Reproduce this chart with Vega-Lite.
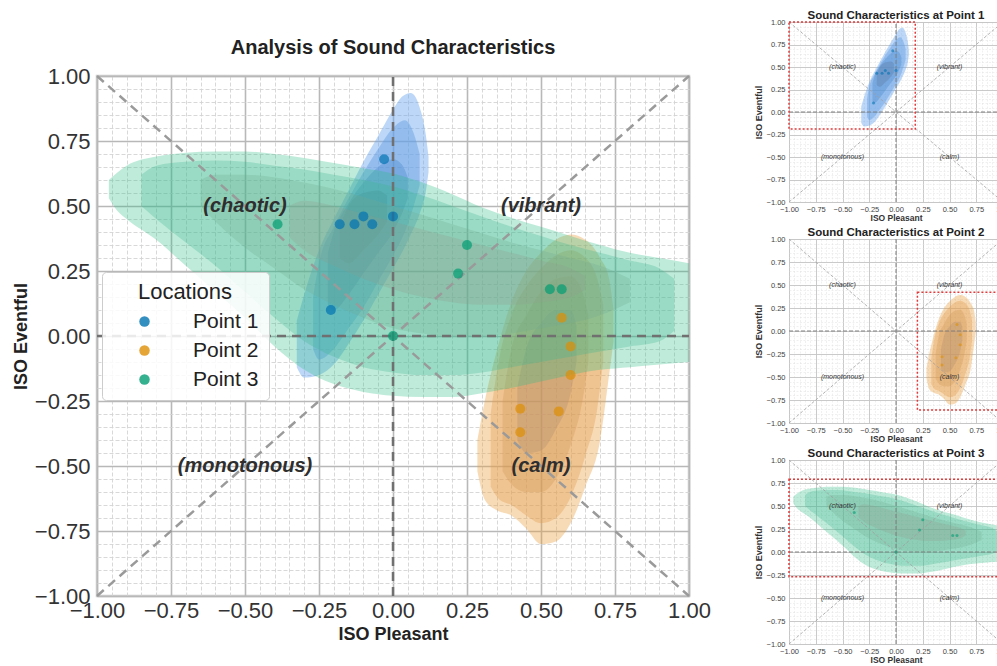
{
"$schema": "https://vega.github.io/schema/vega-lite/v6.json",
"background": "white",
"padding": {"left": 11, "top": 9, "right": 0, "bottom": 0},
"config": {"font": "Liberation Sans", "view": {"stroke": "#cccccc", "strokeWidth": 2}},
"datasets": {
"pts": [
{"loc":"Point 1","x":-0.03,"y":0.68},{"loc":"Point 1","x":0.0,"y":0.46},{"loc":"Point 1","x":-0.18,"y":0.43},{"loc":"Point 1","x":-0.13,"y":0.43},{"loc":"Point 1","x":-0.10,"y":0.46},{"loc":"Point 1","x":-0.07,"y":0.43},{"loc":"Point 1","x":-0.21,"y":0.10},
{"loc":"Point 2","x":0.57,"y":0.07},{"loc":"Point 2","x":0.60,"y":-0.04},{"loc":"Point 2","x":0.60,"y":-0.15},{"loc":"Point 2","x":0.43,"y":-0.28},{"loc":"Point 2","x":0.56,"y":-0.29},{"loc":"Point 2","x":0.43,"y":-0.37},
{"loc":"Point 3","x":-0.39,"y":0.43},{"loc":"Point 3","x":0.25,"y":0.35},{"loc":"Point 3","x":0.22,"y":0.24},{"loc":"Point 3","x":0.0,"y":0.0},{"loc":"Point 3","x":0.53,"y":0.18},{"loc":"Point 3","x":0.57,"y":0.18}
],
"kde": [
{"loc":"Point 3","s":"P3L1","x":-0.96,"y":0.53,"y2":0.60},{"loc":"Point 3","s":"P3L1","x":-0.93,"y":0.48,"y2":0.63},{"loc":"Point 3","s":"P3L1","x":-0.9,"y":0.45,"y2":0.655},{"loc":"Point 3","s":"P3L1","x":-0.8,"y":0.37,"y2":0.69},{"loc":"Point 3","s":"P3L1","x":-0.7,"y":0.27,"y2":0.705},{"loc":"Point 3","s":"P3L1","x":-0.6,"y":0.17,"y2":0.71},{"loc":"Point 3","s":"P3L1","x":-0.5,"y":0.07,"y2":0.71},{"loc":"Point 3","s":"P3L1","x":-0.4,"y":-0.04,"y2":0.70},{"loc":"Point 3","s":"P3L1","x":-0.3,"y":-0.13,"y2":0.685},{"loc":"Point 3","s":"P3L1","x":-0.2,"y":-0.185,"y2":0.665},{"loc":"Point 3","s":"P3L1","x":-0.1,"y":-0.215,"y2":0.645},{"loc":"Point 3","s":"P3L1","x":0.0,"y":-0.23,"y2":0.625},{"loc":"Point 3","s":"P3L1","x":0.1,"y":-0.235,"y2":0.59},{"loc":"Point 3","s":"P3L1","x":0.2,"y":-0.235,"y2":0.545},{"loc":"Point 3","s":"P3L1","x":0.3,"y":-0.22,"y2":0.495},{"loc":"Point 3","s":"P3L1","x":0.4,"y":-0.2,"y2":0.455},{"loc":"Point 3","s":"P3L1","x":0.5,"y":-0.175,"y2":0.42},{"loc":"Point 3","s":"P3L1","x":0.6,"y":-0.15,"y2":0.385},{"loc":"Point 3","s":"P3L1","x":0.7,"y":-0.13,"y2":0.35},{"loc":"Point 3","s":"P3L1","x":0.8,"y":-0.12,"y2":0.32},{"loc":"Point 3","s":"P3L1","x":0.9,"y":-0.11,"y2":0.30},{"loc":"Point 3","s":"P3L1","x":1.0,"y":-0.10,"y2":0.28},
{"loc":"Point 3","s":"P3L2","x":-0.85,"y":0.50,"y2":0.62},{"loc":"Point 3","s":"P3L2","x":-0.8,"y":0.45,"y2":0.655},{"loc":"Point 3","s":"P3L2","x":-0.7,"y":0.36,"y2":0.67},{"loc":"Point 3","s":"P3L2","x":-0.6,"y":0.27,"y2":0.675},{"loc":"Point 3","s":"P3L2","x":-0.5,"y":0.17,"y2":0.67},{"loc":"Point 3","s":"P3L2","x":-0.4,"y":0.07,"y2":0.655},{"loc":"Point 3","s":"P3L2","x":-0.3,"y":-0.02,"y2":0.64},{"loc":"Point 3","s":"P3L2","x":-0.2,"y":-0.08,"y2":0.62},{"loc":"Point 3","s":"P3L2","x":-0.1,"y":-0.12,"y2":0.60},{"loc":"Point 3","s":"P3L2","x":0.0,"y":-0.14,"y2":0.575},{"loc":"Point 3","s":"P3L2","x":0.1,"y":-0.15,"y2":0.54},{"loc":"Point 3","s":"P3L2","x":0.2,"y":-0.15,"y2":0.50},{"loc":"Point 3","s":"P3L2","x":0.3,"y":-0.14,"y2":0.46},{"loc":"Point 3","s":"P3L2","x":0.4,"y":-0.12,"y2":0.42},{"loc":"Point 3","s":"P3L2","x":0.5,"y":-0.10,"y2":0.385},{"loc":"Point 3","s":"P3L2","x":0.6,"y":-0.08,"y2":0.35},{"loc":"Point 3","s":"P3L2","x":0.7,"y":-0.06,"y2":0.32},{"loc":"Point 3","s":"P3L2","x":0.8,"y":-0.04,"y2":0.29},{"loc":"Point 3","s":"P3L2","x":0.9,"y":-0.02,"y2":0.26},{"loc":"Point 3","s":"P3L2","x":0.95,"y":0.02,"y2":0.22},
{"loc":"Point 3","s":"P3L3","x":-0.65,"y":0.50,"y2":0.60},{"loc":"Point 3","s":"P3L3","x":-0.6,"y":0.44,"y2":0.62},{"loc":"Point 3","s":"P3L3","x":-0.5,"y":0.34,"y2":0.62},{"loc":"Point 3","s":"P3L3","x":-0.4,"y":0.26,"y2":0.61},{"loc":"Point 3","s":"P3L3","x":-0.3,"y":0.18,"y2":0.59},{"loc":"Point 3","s":"P3L3","x":-0.2,"y":0.12,"y2":0.565},{"loc":"Point 3","s":"P3L3","x":-0.1,"y":0.07,"y2":0.535},{"loc":"Point 3","s":"P3L3","x":0.0,"y":0.03,"y2":0.50},{"loc":"Point 3","s":"P3L3","x":0.1,"y":0.01,"y2":0.465},{"loc":"Point 3","s":"P3L3","x":0.2,"y":0.0,"y2":0.43},{"loc":"Point 3","s":"P3L3","x":0.3,"y":0.0,"y2":0.395},{"loc":"Point 3","s":"P3L3","x":0.4,"y":0.01,"y2":0.36},{"loc":"Point 3","s":"P3L3","x":0.5,"y":0.03,"y2":0.33},{"loc":"Point 3","s":"P3L3","x":0.6,"y":0.05,"y2":0.30},{"loc":"Point 3","s":"P3L3","x":0.7,"y":0.08,"y2":0.27},{"loc":"Point 3","s":"P3L3","x":0.8,"y":0.13,"y2":0.22},
{"loc":"Point 3","s":"P3L4","x":-0.35,"y":0.38,"y2":0.50},{"loc":"Point 3","s":"P3L4","x":-0.3,"y":0.33,"y2":0.52},{"loc":"Point 3","s":"P3L4","x":-0.2,"y":0.27,"y2":0.50},{"loc":"Point 3","s":"P3L4","x":-0.1,"y":0.22,"y2":0.47},{"loc":"Point 3","s":"P3L4","x":0.0,"y":0.18,"y2":0.44},{"loc":"Point 3","s":"P3L4","x":0.1,"y":0.15,"y2":0.41},{"loc":"Point 3","s":"P3L4","x":0.2,"y":0.13,"y2":0.38},{"loc":"Point 3","s":"P3L4","x":0.3,"y":0.12,"y2":0.35},{"loc":"Point 3","s":"P3L4","x":0.4,"y":0.12,"y2":0.32},{"loc":"Point 3","s":"P3L4","x":0.5,"y":0.13,"y2":0.29},{"loc":"Point 3","s":"P3L4","x":0.6,"y":0.15,"y2":0.26},{"loc":"Point 3","s":"P3L4","x":0.65,"y":0.18,"y2":0.23},
{"loc":"Point 1","s":"P1L1","x":-0.325,"y":-0.12,"y2":0.06},{"loc":"Point 1","s":"P1L1","x":-0.3,"y":-0.16,"y2":0.16},{"loc":"Point 1","s":"P1L1","x":-0.25,"y":-0.15,"y2":0.33},{"loc":"Point 1","s":"P1L1","x":-0.2,"y":-0.11,"y2":0.45},{"loc":"Point 1","s":"P1L1","x":-0.15,"y":-0.03,"y2":0.56},{"loc":"Point 1","s":"P1L1","x":-0.1,"y":0.06,"y2":0.67},{"loc":"Point 1","s":"P1L1","x":-0.05,"y":0.16,"y2":0.77},{"loc":"Point 1","s":"P1L1","x":0.0,"y":0.26,"y2":0.87},{"loc":"Point 1","s":"P1L1","x":0.03,"y":0.32,"y2":0.92},{"loc":"Point 1","s":"P1L1","x":0.06,"y":0.39,"y2":0.935},{"loc":"Point 1","s":"P1L1","x":0.09,"y":0.47,"y2":0.88},{"loc":"Point 1","s":"P1L1","x":0.11,"y":0.55,"y2":0.78},{"loc":"Point 1","s":"P1L1","x":0.12,"y":0.63,"y2":0.69},
{"loc":"Point 1","s":"P1L2","x":-0.27,"y":-0.05,"y2":0.15},{"loc":"Point 1","s":"P1L2","x":-0.25,"y":-0.09,"y2":0.28},{"loc":"Point 1","s":"P1L2","x":-0.2,"y":-0.05,"y2":0.42},{"loc":"Point 1","s":"P1L2","x":-0.15,"y":0.03,"y2":0.53},{"loc":"Point 1","s":"P1L2","x":-0.1,"y":0.11,"y2":0.63},{"loc":"Point 1","s":"P1L2","x":-0.05,"y":0.21,"y2":0.72},{"loc":"Point 1","s":"P1L2","x":0.0,"y":0.31,"y2":0.80},{"loc":"Point 1","s":"P1L2","x":0.04,"y":0.40,"y2":0.83},{"loc":"Point 1","s":"P1L2","x":0.07,"y":0.50,"y2":0.78},{"loc":"Point 1","s":"P1L2","x":0.09,"y":0.58,"y2":0.70},
{"loc":"Point 1","s":"P1L3","x":-0.22,"y":0.12,"y2":0.32},{"loc":"Point 1","s":"P1L3","x":-0.2,"y":0.10,"y2":0.40},{"loc":"Point 1","s":"P1L3","x":-0.15,"y":0.16,"y2":0.51},{"loc":"Point 1","s":"P1L3","x":-0.1,"y":0.24,"y2":0.59},{"loc":"Point 1","s":"P1L3","x":-0.05,"y":0.32,"y2":0.65},{"loc":"Point 1","s":"P1L3","x":0.0,"y":0.40,"y2":0.68},{"loc":"Point 1","s":"P1L3","x":0.03,"y":0.47,"y2":0.66},{"loc":"Point 1","s":"P1L3","x":0.05,"y":0.53,"y2":0.61},
{"loc":"Point 1","s":"P1L4","x":-0.18,"y":0.30,"y2":0.42},{"loc":"Point 1","s":"P1L4","x":-0.15,"y":0.28,"y2":0.50},{"loc":"Point 1","s":"P1L4","x":-0.1,"y":0.33,"y2":0.55},{"loc":"Point 1","s":"P1L4","x":-0.05,"y":0.39,"y2":0.56},{"loc":"Point 1","s":"P1L4","x":-0.02,"y":0.44,"y2":0.54},
{"loc":"Point 2","s":"P2L1","x":0.285,"y":-0.52,"y2":-0.40},{"loc":"Point 2","s":"P2L1","x":0.31,"y":-0.63,"y2":-0.25},{"loc":"Point 2","s":"P2L1","x":0.35,"y":-0.67,"y2":-0.06},{"loc":"Point 2","s":"P2L1","x":0.40,"y":-0.69,"y2":0.13},{"loc":"Point 2","s":"P2L1","x":0.45,"y":-0.74,"y2":0.25},{"loc":"Point 2","s":"P2L1","x":0.50,"y":-0.80,"y2":0.32},{"loc":"Point 2","s":"P2L1","x":0.55,"y":-0.79,"y2":0.37},{"loc":"Point 2","s":"P2L1","x":0.60,"y":-0.72,"y2":0.39},{"loc":"Point 2","s":"P2L1","x":0.65,"y":-0.58,"y2":0.37},{"loc":"Point 2","s":"P2L1","x":0.70,"y":-0.40,"y2":0.30},{"loc":"Point 2","s":"P2L1","x":0.73,"y":-0.15,"y2":0.22},{"loc":"Point 2","s":"P2L1","x":0.745,"y":-0.02,"y2":0.10},
{"loc":"Point 2","s":"P2L2","x":0.33,"y":-0.58,"y2":-0.30},{"loc":"Point 2","s":"P2L2","x":0.36,"y":-0.63,"y2":-0.08},{"loc":"Point 2","s":"P2L2","x":0.40,"y":-0.65,"y2":0.08},{"loc":"Point 2","s":"P2L2","x":0.45,"y":-0.69,"y2":0.19},{"loc":"Point 2","s":"P2L2","x":0.50,"y":-0.72,"y2":0.26},{"loc":"Point 2","s":"P2L2","x":0.55,"y":-0.70,"y2":0.31},{"loc":"Point 2","s":"P2L2","x":0.60,"y":-0.62,"y2":0.33},{"loc":"Point 2","s":"P2L2","x":0.65,"y":-0.46,"y2":0.30},{"loc":"Point 2","s":"P2L2","x":0.69,"y":-0.28,"y2":0.22},{"loc":"Point 2","s":"P2L2","x":0.71,"y":-0.10,"y2":0.12},
{"loc":"Point 2","s":"P2L3","x":0.37,"y":-0.52,"y2":-0.25},{"loc":"Point 2","s":"P2L3","x":0.40,"y":-0.57,"y2":-0.05},{"loc":"Point 2","s":"P2L3","x":0.45,"y":-0.60,"y2":0.08},{"loc":"Point 2","s":"P2L3","x":0.50,"y":-0.60,"y2":0.17},{"loc":"Point 2","s":"P2L3","x":0.55,"y":-0.55,"y2":0.22},{"loc":"Point 2","s":"P2L3","x":0.60,"y":-0.42,"y2":0.23},{"loc":"Point 2","s":"P2L3","x":0.64,"y":-0.25,"y2":0.17},{"loc":"Point 2","s":"P2L3","x":0.66,"y":-0.10,"y2":0.08},
{"loc":"Point 2","s":"P2L4","x":0.42,"y":-0.40,"y2":-0.20},{"loc":"Point 2","s":"P2L4","x":0.45,"y":-0.45,"y2":-0.05},{"loc":"Point 2","s":"P2L4","x":0.50,"y":-0.44,"y2":0.05},{"loc":"Point 2","s":"P2L4","x":0.55,"y":-0.36,"y2":0.10},{"loc":"Point 2","s":"P2L4","x":0.60,"y":-0.22,"y2":0.10},{"loc":"Point 2","s":"P2L4","x":0.62,"y":-0.10,"y2":0.04}
],
"lines": [
{"kind":"diag","x":-1,"y":-1,"x2":1,"y2":1},{"kind":"diag","x":-1,"y":1,"x2":1,"y2":-1},
{"kind":"axis","x":0,"y":-1,"x2":0,"y2":1},{"kind":"axis","x":-1,"y":0,"x2":1,"y2":0}
],
"quad": [
{"x":-0.5,"y":0.5,"label":"(chaotic)"},{"x":0.5,"y":0.5,"label":"(vibrant)"},
{"x":-0.5,"y":-0.5,"label":"(monotonous)"},{"x":0.5,"y":-0.5,"label":"(calm)"}
],
"boxes": [
{"loc":"Point 1","x":-1,"x2":0.18,"y":-0.19,"y2":1.0},
{"loc":"Point 2","x":0.2,"x2":1.05,"y":-0.86,"y2":0.42},
{"loc":"Point 3","x":-1,"x2":1.05,"y":-0.27,"y2":0.79}
]
},
"spacing": 41,
"hconcat": [
{"spacing": 6, "vconcat": [
{"width": 592, "height": 6, "view": {"stroke": null}, "data": {"values": [{}]}, "mark": {"type": "text", "text": ""}},
{
"width": 592, "height": 520,
"view": {"stroke": "#cccccc", "strokeWidth": 2.5},
"title": {"text": "Analysis of Sound Characteristics", "fontSize": 20, "font": "Liberation Sans", "fontWeight": "bold", "color": "#222222", "offset": 7},
"encoding": {
"x": {"field": "x", "type": "quantitative", "scale": {"domain": [-1, 1], "nice": false, "zero": false},
"axis": {"values": [-1,-0.95,-0.9,-0.85,-0.8,-0.75,-0.7,-0.65,-0.6,-0.55,-0.5,-0.45,-0.4,-0.35,-0.3,-0.25,-0.2,-0.15,-0.1,-0.05,0,0.05,0.1,0.15,0.2,0.25,0.3,0.35,0.4,0.45,0.5,0.55,0.6,0.65,0.7,0.75,0.8,0.85,0.9,0.95,1],
"orient": "bottom", "domain": false, "ticks": false, "grid": true, "zindex": 0,
"gridColor": {"condition": {"test": "abs(datum.value*4-round(datum.value*4))<0.001", "value": "#b8b8b8"}, "value": "#d4d4d4"},
"gridWidth": {"condition": {"test": "abs(datum.value*4-round(datum.value*4))<0.001", "value": 1.6}, "value": 0.9},
"gridDash": {"condition": {"test": "abs(datum.value*4-round(datum.value*4))<0.001", "value": []}, "value": [4, 2]},
"labelExpr": "abs(datum.value*4-round(datum.value*4))<0.001 ? format(datum.value,'.2f') : ''",
"labelFont": "Liberation Sans", "labelFontSize": 22, "labelColor": "#333333", "labelPadding": 4, "labelFlush": false, "labelOverlap": false, "labelBound": false,
"title": "ISO Pleasant", "titleFont": "Liberation Sans", "titleFontSize": 18, "titleFontWeight": "bold", "titleColor": "#222222", "titlePadding": 4}},
"y": {"field": "y", "type": "quantitative", "scale": {"domain": [-1, 1], "nice": false, "zero": false},
"axis": {"values": [-1,-0.95,-0.9,-0.85,-0.8,-0.75,-0.7,-0.65,-0.6,-0.55,-0.5,-0.45,-0.4,-0.35,-0.3,-0.25,-0.2,-0.15,-0.1,-0.05,0,0.05,0.1,0.15,0.2,0.25,0.3,0.35,0.4,0.45,0.5,0.55,0.6,0.65,0.7,0.75,0.8,0.85,0.9,0.95,1],
"orient": "left", "domain": false, "ticks": false, "grid": true, "zindex": 0,
"gridColor": {"condition": {"test": "abs(datum.value*4-round(datum.value*4))<0.001", "value": "#b8b8b8"}, "value": "#d4d4d4"},
"gridWidth": {"condition": {"test": "abs(datum.value*4-round(datum.value*4))<0.001", "value": 1.6}, "value": 0.9},
"gridDash": {"condition": {"test": "abs(datum.value*4-round(datum.value*4))<0.001", "value": []}, "value": [4, 2]},
"labelExpr": "abs(datum.value*4-round(datum.value*4))<0.001 ? format(datum.value,'.2f') : ''",
"labelFont": "Liberation Sans", "labelFontSize": 22, "labelColor": "#333333", "labelPadding": 7, "labelFlush": false, "labelOverlap": false, "labelBound": false,
"title": "ISO Eventful", "titleFont": "Liberation Sans", "titleFontSize": 18, "titleFontWeight": "bold", "titleColor": "#222222", "titlePadding": 4}}
},
"layer": [
{"data": {"name": "kde"}, "transform": [{"filter": "datum.loc === 'Point 1'"}], "mark": {"type": "area", "interpolate": "monotone"},
"encoding": {"y2": {"field": "y2"},
"fill": {"field": "s", "type": "nominal", "legend": null, "scale": {"domain": ["P1L1","P1L2","P1L3","P1L4","P2L1","P2L2","P2L3","P2L4","P3L1","P3L2","P3L3","P3L4"], "range": ["#6aa6ee","#5f9ce4","#4f8ccc","#5f7fa8","#eb9f41","#e39c4c","#d0985c","#ad8c70","#2dbf87","#3cb48e","#6fa894","#8e9a8c"]}},
"fillOpacity": {"field": "s", "type": "nominal", "legend": null, "scale": {"domain": ["P1L1","P1L2","P1L3","P1L4","P2L1","P2L2","P2L3","P2L4","P3L1","P3L2","P3L3","P3L4"], "range": [0.45,0.25,0.25,0.3,0.45,0.25,0.25,0.3,0.45,0.22,0.25,0.3]}}}},
{"data": {"name": "kde"}, "transform": [{"filter": "datum.loc === 'Point 2'"}], "mark": {"type": "area", "interpolate": "monotone"},
"encoding": {"y2": {"field": "y2"}, "fill": {"field": "s", "type": "nominal", "legend": null}, "fillOpacity": {"field": "s", "type": "nominal", "legend": null}}},
{"data": {"name": "kde"}, "transform": [{"filter": "datum.loc === 'Point 3'"}], "mark": {"type": "area", "interpolate": "monotone"},
"encoding": {"y2": {"field": "y2"}, "fill": {"field": "s", "type": "nominal", "legend": null}, "fillOpacity": {"field": "s", "type": "nominal", "legend": null}}},
{"data": {"name": "lines"}, "transform": [{"filter": "datum.kind === 'diag'"}], "mark": {"type": "rule", "color": "#9a9a9a", "strokeWidth": 2.5, "strokeDash": [9, 6]},
"encoding": {"x2": {"field": "x2"}, "y2": {"field": "y2"}}},
{"data": {"name": "lines"}, "transform": [{"filter": "datum.kind === 'axis'"}], "mark": {"type": "rule", "color": "#707070", "strokeWidth": 2.5, "strokeDash": [9, 6]},
"encoding": {"x2": {"field": "x2"}, "y2": {"field": "y2"}}},
{"data": {"name": "quad"}, "mark": {"type": "text", "font": "Liberation Sans", "fontSize": 20, "fontWeight": "bold", "fontStyle": "italic", "color": "#2e2e2e"},
"encoding": {"text": {"field": "label"}}},
{"data": {"name": "pts"}, "mark": {"type": "circle", "size": 100, "opacity": 0.7},
"encoding": {"color": {"field": "loc", "type": "nominal", "scale": {"domain": ["Point 1", "Point 2", "Point 3"], "range": ["#0173b2", "#de8f05", "#029e73"]},
"legend": {"orient": "none", "legendX": 5, "legendY": 250, "title": "Locations", "titleFont": "Liberation Sans", "titleFontSize": 22, "titleFontWeight": "normal", "titleColor": "#222222", "titleAnchor": "middle", "titlePadding": 7,
"labelFont": "Liberation Sans", "labelFontSize": 21, "labelColor": "#222222", "labelOffset": 38, "symbolOffset": 22, "symbolType": "circle", "symbolSize": 110, "symbolOpacity": 0.8, "symbolStrokeWidth": 0,
"rowPadding": 7, "padding": 10, "fillColor": "rgba(255,255,255,0.85)", "strokeColor": "#cccccc", "cornerRadius": 4}}}}
]
}
]},
{
"spacing": 3,
"vconcat": [
{
"width": 214, "height": 180,
"view": {"stroke": "#dddddd", "strokeWidth": 1},
"title": {"text": "Sound Characteristics at Point 1", "fontSize": 11.5, "font": "Liberation Sans", "fontWeight": "bold", "color": "#222222", "offset": -3},
"encoding": {
"x": {"field": "x", "type": "quantitative", "scale": {"domain": [-1, 1], "nice": false, "zero": false},
"axis": {"values": [-1,-0.95,-0.9,-0.85,-0.8,-0.75,-0.7,-0.65,-0.6,-0.55,-0.5,-0.45,-0.4,-0.35,-0.3,-0.25,-0.2,-0.15,-0.1,-0.05,0,0.05,0.1,0.15,0.2,0.25,0.3,0.35,0.4,0.45,0.5,0.55,0.6,0.65,0.7,0.75,0.8,0.85,0.9,0.95,1],
"domain": false, "ticks": false, "grid": true, "zindex": 0,
"gridColor": {"condition": {"test": "abs(datum.value*4-round(datum.value*4))<0.001", "value": "#c4c4c4"}, "value": "#e0e0e0"},
"gridWidth": {"condition": {"test": "abs(datum.value*4-round(datum.value*4))<0.001", "value": 0.9}, "value": 0.5},
"gridDash": {"condition": {"test": "abs(datum.value*4-round(datum.value*4))<0.001", "value": []}, "value": [2, 1.5]},
"labelExpr": "abs(datum.value*4-round(datum.value*4))<0.001 ? format(datum.value,'.2f') : ''",
"labelFont": "Liberation Sans", "labelFontSize": 7.5, "labelColor": "#444444", "labelPadding": 3, "labelFlush": false, "labelOverlap": false, "labelBound": false,
"title": "ISO Pleasant", "titleFont": "Liberation Sans", "titleFontSize": 8.5, "titleFontWeight": "bold", "titleColor": "#333333", "titlePadding": 1}},
"y": {"field": "y", "type": "quantitative", "scale": {"domain": [-1, 1], "nice": false, "zero": false},
"axis": {"values": [-1,-0.95,-0.9,-0.85,-0.8,-0.75,-0.7,-0.65,-0.6,-0.55,-0.5,-0.45,-0.4,-0.35,-0.3,-0.25,-0.2,-0.15,-0.1,-0.05,0,0.05,0.1,0.15,0.2,0.25,0.3,0.35,0.4,0.45,0.5,0.55,0.6,0.65,0.7,0.75,0.8,0.85,0.9,0.95,1],
"domain": false, "ticks": false, "grid": true, "zindex": 0,
"gridColor": {"condition": {"test": "abs(datum.value*4-round(datum.value*4))<0.001", "value": "#c4c4c4"}, "value": "#e0e0e0"},
"gridWidth": {"condition": {"test": "abs(datum.value*4-round(datum.value*4))<0.001", "value": 0.9}, "value": 0.5},
"gridDash": {"condition": {"test": "abs(datum.value*4-round(datum.value*4))<0.001", "value": []}, "value": [2, 1.5]},
"labelExpr": "abs(datum.value*4-round(datum.value*4))<0.001 ? format(datum.value,'.2f') : ''",
"labelFont": "Liberation Sans", "labelFontSize": 7.5, "labelColor": "#444444", "labelPadding": 4, "labelFlush": false, "labelOverlap": false, "labelBound": false,
"title": "ISO Eventful", "titleFont": "Liberation Sans", "titleFontSize": 9, "titleFontWeight": "bold", "titleColor": "#333333", "titlePadding": 3}}
},
"layer": [
{"data": {"name": "kde"}, "transform": [{"filter": "datum.loc === 'Point 1'"}], "mark": {"type": "area", "interpolate": "monotone"},
"encoding": {"y2": {"field": "y2"},
"fill": {"field": "s", "type": "nominal", "legend": null, "scale": {"domain": ["P1L1","P1L2","P1L3","P1L4","P2L1","P2L2","P2L3","P2L4","P3L1","P3L2","P3L3","P3L4"], "range": ["#6aa6ee","#5f9ce4","#4f8ccc","#5f7fa8","#eb9f41","#e39c4c","#d0985c","#ad8c70","#2dbf87","#3cb48e","#6fa894","#8e9a8c"]}},
"fillOpacity": {"field": "s", "type": "nominal", "legend": null, "scale": {"domain": ["P1L1","P1L2","P1L3","P1L4","P2L1","P2L2","P2L3","P2L4","P3L1","P3L2","P3L3","P3L4"], "range": [0.45,0.25,0.25,0.3,0.45,0.25,0.25,0.3,0.45,0.22,0.25,0.3]}}}},
{"data": {"name": "lines"}, "transform": [{"filter": "datum.kind === 'diag'"}], "mark": {"type": "rule", "color": "#a0a0a0", "strokeWidth": 0.8, "strokeDash": [3, 2]},
"encoding": {"x2": {"field": "x2"}, "y2": {"field": "y2"}}},
{"data": {"name": "lines"}, "transform": [{"filter": "datum.kind === 'axis'"}], "mark": {"type": "rule", "color": "#808080", "strokeWidth": 1, "strokeDash": [4, 2]},
"encoding": {"x2": {"field": "x2"}, "y2": {"field": "y2"}}},
{"data": {"name": "quad"}, "mark": {"type": "text", "font": "Liberation Sans", "fontSize": 7, "fontStyle": "italic", "color": "#333333"},
"encoding": {"text": {"field": "label"}}},
{"data": {"name": "pts"}, "transform": [{"filter": "datum.loc === 'Point 1'"}], "mark": {"type": "circle", "size": 9, "opacity": 0.6, "color": "#0173b2"}},
{"data": {"name": "boxes"}, "transform": [{"filter": "datum.loc === 'Point 1'"}], "mark": {"type": "rect", "filled": false, "color": "#e03a3a", "strokeWidth": 1.5, "strokeDash": [2, 2]},
"encoding": {"x2": {"field": "x2"}, "y2": {"field": "y2"}}}
]
},
{
"width": 214, "height": 184,
"view": {"stroke": "#dddddd", "strokeWidth": 1},
"title": {"text": "Sound Characteristics at Point 2", "fontSize": 11.5, "font": "Liberation Sans", "fontWeight": "bold", "color": "#222222", "offset": -3},
"encoding": {
"x": {"field": "x", "type": "quantitative", "scale": {"domain": [-1, 1], "nice": false, "zero": false},
"axis": {"values": [-1,-0.95,-0.9,-0.85,-0.8,-0.75,-0.7,-0.65,-0.6,-0.55,-0.5,-0.45,-0.4,-0.35,-0.3,-0.25,-0.2,-0.15,-0.1,-0.05,0,0.05,0.1,0.15,0.2,0.25,0.3,0.35,0.4,0.45,0.5,0.55,0.6,0.65,0.7,0.75,0.8,0.85,0.9,0.95,1],
"domain": false, "ticks": false, "grid": true, "zindex": 0,
"gridColor": {"condition": {"test": "abs(datum.value*4-round(datum.value*4))<0.001", "value": "#c4c4c4"}, "value": "#e0e0e0"},
"gridWidth": {"condition": {"test": "abs(datum.value*4-round(datum.value*4))<0.001", "value": 0.9}, "value": 0.5},
"gridDash": {"condition": {"test": "abs(datum.value*4-round(datum.value*4))<0.001", "value": []}, "value": [2, 1.5]},
"labelExpr": "abs(datum.value*4-round(datum.value*4))<0.001 ? format(datum.value,'.2f') : ''",
"labelFont": "Liberation Sans", "labelFontSize": 7.5, "labelColor": "#444444", "labelPadding": 3, "labelFlush": false, "labelOverlap": false, "labelBound": false,
"title": "ISO Pleasant", "titleFont": "Liberation Sans", "titleFontSize": 8.5, "titleFontWeight": "bold", "titleColor": "#333333", "titlePadding": 1}},
"y": {"field": "y", "type": "quantitative", "scale": {"domain": [-1, 1], "nice": false, "zero": false},
"axis": {"values": [-1,-0.95,-0.9,-0.85,-0.8,-0.75,-0.7,-0.65,-0.6,-0.55,-0.5,-0.45,-0.4,-0.35,-0.3,-0.25,-0.2,-0.15,-0.1,-0.05,0,0.05,0.1,0.15,0.2,0.25,0.3,0.35,0.4,0.45,0.5,0.55,0.6,0.65,0.7,0.75,0.8,0.85,0.9,0.95,1],
"domain": false, "ticks": false, "grid": true, "zindex": 0,
"gridColor": {"condition": {"test": "abs(datum.value*4-round(datum.value*4))<0.001", "value": "#c4c4c4"}, "value": "#e0e0e0"},
"gridWidth": {"condition": {"test": "abs(datum.value*4-round(datum.value*4))<0.001", "value": 0.9}, "value": 0.5},
"gridDash": {"condition": {"test": "abs(datum.value*4-round(datum.value*4))<0.001", "value": []}, "value": [2, 1.5]},
"labelExpr": "abs(datum.value*4-round(datum.value*4))<0.001 ? format(datum.value,'.2f') : ''",
"labelFont": "Liberation Sans", "labelFontSize": 7.5, "labelColor": "#444444", "labelPadding": 4, "labelFlush": false, "labelOverlap": false, "labelBound": false,
"title": "ISO Eventful", "titleFont": "Liberation Sans", "titleFontSize": 9, "titleFontWeight": "bold", "titleColor": "#333333", "titlePadding": 3}}
},
"layer": [
{"data": {"name": "kde"}, "transform": [{"filter": "datum.loc === 'Point 2'"}], "mark": {"type": "area", "interpolate": "monotone"},
"encoding": {"y2": {"field": "y2"},
"fill": {"field": "s", "type": "nominal", "legend": null, "scale": {"domain": ["P1L1","P1L2","P1L3","P1L4","P2L1","P2L2","P2L3","P2L4","P3L1","P3L2","P3L3","P3L4"], "range": ["#6aa6ee","#5f9ce4","#4f8ccc","#5f7fa8","#eb9f41","#e39c4c","#d0985c","#ad8c70","#2dbf87","#3cb48e","#6fa894","#8e9a8c"]}},
"fillOpacity": {"field": "s", "type": "nominal", "legend": null, "scale": {"domain": ["P1L1","P1L2","P1L3","P1L4","P2L1","P2L2","P2L3","P2L4","P3L1","P3L2","P3L3","P3L4"], "range": [0.45,0.25,0.25,0.3,0.45,0.25,0.25,0.3,0.45,0.22,0.25,0.3]}}}},
{"data": {"name": "lines"}, "transform": [{"filter": "datum.kind === 'diag'"}], "mark": {"type": "rule", "color": "#a0a0a0", "strokeWidth": 0.8, "strokeDash": [3, 2]},
"encoding": {"x2": {"field": "x2"}, "y2": {"field": "y2"}}},
{"data": {"name": "lines"}, "transform": [{"filter": "datum.kind === 'axis'"}], "mark": {"type": "rule", "color": "#808080", "strokeWidth": 1, "strokeDash": [4, 2]},
"encoding": {"x2": {"field": "x2"}, "y2": {"field": "y2"}}},
{"data": {"name": "quad"}, "mark": {"type": "text", "font": "Liberation Sans", "fontSize": 7, "fontStyle": "italic", "color": "#333333"},
"encoding": {"text": {"field": "label"}}},
{"data": {"name": "pts"}, "transform": [{"filter": "datum.loc === 'Point 2'"}], "mark": {"type": "circle", "size": 9, "opacity": 0.6, "color": "#de8f05"}},
{"data": {"name": "boxes"}, "transform": [{"filter": "datum.loc === 'Point 2'"}], "mark": {"type": "rect", "filled": false, "color": "#e03a3a", "strokeWidth": 1.5, "strokeDash": [2, 2]},
"encoding": {"x2": {"field": "x2"}, "y2": {"field": "y2"}}}
]
},
{
"width": 214, "height": 184,
"view": {"stroke": "#dddddd", "strokeWidth": 1},
"title": {"text": "Sound Characteristics at Point 3", "fontSize": 11.5, "font": "Liberation Sans", "fontWeight": "bold", "color": "#222222", "offset": -3},
"encoding": {
"x": {"field": "x", "type": "quantitative", "scale": {"domain": [-1, 1], "nice": false, "zero": false},
"axis": {"values": [-1,-0.95,-0.9,-0.85,-0.8,-0.75,-0.7,-0.65,-0.6,-0.55,-0.5,-0.45,-0.4,-0.35,-0.3,-0.25,-0.2,-0.15,-0.1,-0.05,0,0.05,0.1,0.15,0.2,0.25,0.3,0.35,0.4,0.45,0.5,0.55,0.6,0.65,0.7,0.75,0.8,0.85,0.9,0.95,1],
"domain": false, "ticks": false, "grid": true, "zindex": 0,
"gridColor": {"condition": {"test": "abs(datum.value*4-round(datum.value*4))<0.001", "value": "#c4c4c4"}, "value": "#e0e0e0"},
"gridWidth": {"condition": {"test": "abs(datum.value*4-round(datum.value*4))<0.001", "value": 0.9}, "value": 0.5},
"gridDash": {"condition": {"test": "abs(datum.value*4-round(datum.value*4))<0.001", "value": []}, "value": [2, 1.5]},
"labelExpr": "abs(datum.value*4-round(datum.value*4))<0.001 ? format(datum.value,'.2f') : ''",
"labelFont": "Liberation Sans", "labelFontSize": 7.5, "labelColor": "#444444", "labelPadding": 3, "labelFlush": false, "labelOverlap": false, "labelBound": false,
"title": "ISO Pleasant", "titleFont": "Liberation Sans", "titleFontSize": 8.5, "titleFontWeight": "bold", "titleColor": "#333333", "titlePadding": 1}},
"y": {"field": "y", "type": "quantitative", "scale": {"domain": [-1, 1], "nice": false, "zero": false},
"axis": {"values": [-1,-0.95,-0.9,-0.85,-0.8,-0.75,-0.7,-0.65,-0.6,-0.55,-0.5,-0.45,-0.4,-0.35,-0.3,-0.25,-0.2,-0.15,-0.1,-0.05,0,0.05,0.1,0.15,0.2,0.25,0.3,0.35,0.4,0.45,0.5,0.55,0.6,0.65,0.7,0.75,0.8,0.85,0.9,0.95,1],
"domain": false, "ticks": false, "grid": true, "zindex": 0,
"gridColor": {"condition": {"test": "abs(datum.value*4-round(datum.value*4))<0.001", "value": "#c4c4c4"}, "value": "#e0e0e0"},
"gridWidth": {"condition": {"test": "abs(datum.value*4-round(datum.value*4))<0.001", "value": 0.9}, "value": 0.5},
"gridDash": {"condition": {"test": "abs(datum.value*4-round(datum.value*4))<0.001", "value": []}, "value": [2, 1.5]},
"labelExpr": "abs(datum.value*4-round(datum.value*4))<0.001 ? format(datum.value,'.2f') : ''",
"labelFont": "Liberation Sans", "labelFontSize": 7.5, "labelColor": "#444444", "labelPadding": 4, "labelFlush": false, "labelOverlap": false, "labelBound": false,
"title": "ISO Eventful", "titleFont": "Liberation Sans", "titleFontSize": 9, "titleFontWeight": "bold", "titleColor": "#333333", "titlePadding": 3}}
},
"layer": [
{"data": {"name": "kde"}, "transform": [{"filter": "datum.loc === 'Point 3'"}], "mark": {"type": "area", "interpolate": "monotone"},
"encoding": {"y2": {"field": "y2"},
"fill": {"field": "s", "type": "nominal", "legend": null, "scale": {"domain": ["P1L1","P1L2","P1L3","P1L4","P2L1","P2L2","P2L3","P2L4","P3L1","P3L2","P3L3","P3L4"], "range": ["#6aa6ee","#5f9ce4","#4f8ccc","#5f7fa8","#eb9f41","#e39c4c","#d0985c","#ad8c70","#2dbf87","#3cb48e","#6fa894","#8e9a8c"]}},
"fillOpacity": {"field": "s", "type": "nominal", "legend": null, "scale": {"domain": ["P1L1","P1L2","P1L3","P1L4","P2L1","P2L2","P2L3","P2L4","P3L1","P3L2","P3L3","P3L4"], "range": [0.45,0.25,0.25,0.3,0.45,0.25,0.25,0.3,0.45,0.22,0.25,0.3]}}}},
{"data": {"name": "lines"}, "transform": [{"filter": "datum.kind === 'diag'"}], "mark": {"type": "rule", "color": "#a0a0a0", "strokeWidth": 0.8, "strokeDash": [3, 2]},
"encoding": {"x2": {"field": "x2"}, "y2": {"field": "y2"}}},
{"data": {"name": "lines"}, "transform": [{"filter": "datum.kind === 'axis'"}], "mark": {"type": "rule", "color": "#808080", "strokeWidth": 1, "strokeDash": [4, 2]},
"encoding": {"x2": {"field": "x2"}, "y2": {"field": "y2"}}},
{"data": {"name": "quad"}, "mark": {"type": "text", "font": "Liberation Sans", "fontSize": 7, "fontStyle": "italic", "color": "#333333"},
"encoding": {"text": {"field": "label"}}},
{"data": {"name": "pts"}, "transform": [{"filter": "datum.loc === 'Point 3'"}], "mark": {"type": "circle", "size": 9, "opacity": 0.6, "color": "#029e73"}},
{"data": {"name": "boxes"}, "transform": [{"filter": "datum.loc === 'Point 3'"}], "mark": {"type": "rect", "filled": false, "color": "#e03a3a", "strokeWidth": 1.5, "strokeDash": [2, 2]},
"encoding": {"x2": {"field": "x2"}, "y2": {"field": "y2"}}}
]
}
]
}
]
}
